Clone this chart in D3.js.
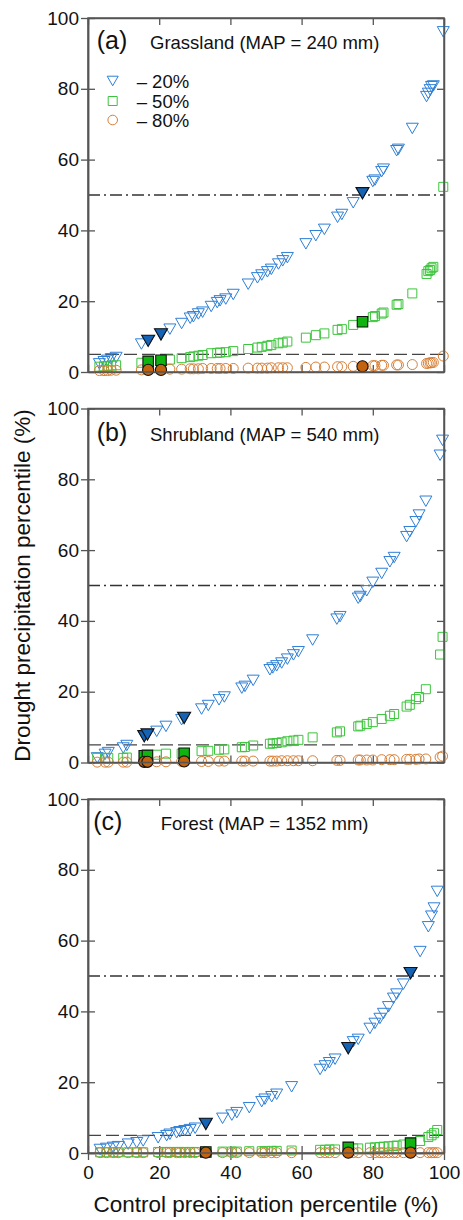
<!DOCTYPE html>
<html>
<head>
<meta charset="utf-8">
<script src="https://cdn.jsdelivr.net/npm/d3@7"></script>
<style>
body { margin: 0; background: #fff; }
svg { display: block; font-family: "Liberation Sans", Arial, sans-serif; }
</style>
</head>
<body>
<div id="plot"></div>
<script>
// ---- data ----
var yTicks = [0, 20, 40, 60, 80, 100];
var xTicks = [0, 20, 40, 60, 80, 100];
var legendLabels = ["\u2013 20%", "\u2013 50%", "\u2013 80%"];
var panelTags = ["(a)", "(b)", "(c)"];
var panelTitles = ["Grassland (MAP = 240 mm)", "Shrubland (MAP = 540 mm)", "Forest (MAP = 1352 mm)"];

// grassland
var grassX = [3.2, 4.5, 5.5, 6.5, 7.9, 15.0, 16.9, 20.5, 23.0, 26.3, 28.7, 29.6, 31.0, 32.2, 34.6, 36.3, 37.1, 38.7, 40.8, 45.0, 47.6, 48.8, 50.4, 51.5, 53.5, 54.7, 56.0, 61.2, 64.0, 66.4, 70.1, 71.3, 74.5, 77.1, 80.0, 80.6, 82.5, 83.0, 86.7, 87.2, 91.1, 95.1, 95.6, 96.1, 96.5, 97.0, 99.8];
var grass20 = [2.3, 2.9, 3.3, 3.7, 4.1, 7.9, 8.8, 10.6, 12.1, 13.7, 15.2, 15.6, 16.4, 16.9, 18.5, 19.6, 20.1, 20.6, 21.9, 24.8, 26.6, 27.4, 28.3, 29.0, 30.5, 31.4, 32.3, 36.2, 38.5, 40.3, 43.7, 44.5, 47.8, 50.5, 53.8, 54.2, 56.6, 57.3, 62.5, 62.9, 68.8, 77.8, 78.7, 79.7, 80.6, 80.8, 96.1];
var grass50 = [1.5, 1.6, 1.7, 1.8, 1.9, 2.6, 3.0, 3.3, 3.5, 3.9, 4.2, 4.4, 4.6, 4.8, 5.3, 5.4, 5.5, 5.6, 5.9, 6.5, 6.9, 7.1, 7.4, 7.6, 8.1, 8.3, 8.6, 9.7, 10.4, 10.9, 11.9, 12.1, 13.3, 14.2, 15.5, 15.8, 16.5, 16.8, 19.0, 19.2, 22.2, 27.7, 28.5, 28.8, 29.3, 29.7, 52.3];
var grass80 = [0.4, 0.4, 0.4, 0.5, 0.5, 0.6, 0.7, 0.7, 0.8, 0.8, 0.9, 0.9, 0.9, 1.0, 1.0, 1.0, 1.0, 1.0, 1.0, 1.1, 1.1, 1.1, 1.1, 1.2, 1.2, 1.2, 1.2, 1.3, 1.4, 1.4, 1.5, 1.5, 1.6, 1.7, 1.8, 1.8, 1.9, 1.9, 2.0, 2.0, 2.1, 2.4, 2.5, 2.6, 2.6, 2.7, 4.5];
var grassHiX = [16.9, 20.5, 77.1];
var grassHi20 = [8.8, 10.6, 50.5];
var grassHi50 = [3.0, 3.3, 14.2];
var grassHi80 = [0.6, 0.6, 1.6];

// shrubland
var shrubX = [2.6, 4.8, 5.7, 9.9, 10.9, 15.8, 16.7, 19.3, 21.9, 26.3, 27.0, 31.9, 33.8, 36.8, 38.3, 43.2, 44.1, 46.4, 51.1, 51.9, 53.0, 54.4, 56.0, 57.7, 59.1, 63.1, 69.9, 70.8, 75.9, 76.5, 78.3, 80.0, 82.5, 84.8, 86.0, 89.5, 90.4, 92.1, 93.0, 94.9, 98.9, 99.6];
var shrub20 = [1.3, 2.3, 2.8, 4.1, 4.8, 7.4, 7.9, 8.8, 10.2, 12.1, 12.6, 15.1, 16.1, 17.7, 18.5, 21.0, 21.5, 23.2, 26.2, 26.7, 27.3, 28.1, 29.2, 30.4, 31.3, 34.6, 40.5, 41.2, 46.4, 46.9, 48.5, 50.9, 53.4, 56.7, 57.9, 63.8, 65.2, 68.0, 69.9, 73.8, 86.8, 91.0];
var shrub50 = [1.3, 1.3, 1.3, 1.3, 1.4, 1.9, 2.0, 2.2, 2.5, 2.5, 2.6, 3.2, 3.3, 3.6, 3.7, 4.3, 4.4, 4.8, 5.3, 5.4, 5.5, 5.7, 6.0, 6.2, 6.4, 7.1, 8.5, 8.8, 10.2, 10.4, 10.9, 11.4, 12.3, 13.2, 13.7, 15.8, 16.3, 17.9, 18.5, 20.7, 30.5, 35.5];
var shrub80 = [0.1, 0.1, 0.1, 0.1, 0.1, 0.2, 0.2, 0.2, 0.2, 0.3, 0.3, 0.3, 0.3, 0.4, 0.4, 0.4, 0.4, 0.4, 0.4, 0.4, 0.4, 0.5, 0.5, 0.5, 0.5, 0.5, 0.6, 0.6, 0.7, 0.7, 0.7, 0.7, 0.8, 0.8, 0.8, 0.9, 0.9, 0.9, 1.0, 1.0, 1.5, 1.8];
var shrubHiX = [15.8, 16.7, 27.0];
var shrubHi20 = [7.4, 7.9, 12.6];
var shrubHi50 = [1.9, 2.0, 2.6];
var shrubHi80 = [0.2, 0.2, 0.3];

// forest
var forestX = [3.4, 5.2, 7.1, 8.5, 11.3, 13.7, 15.5, 19.7, 22.1, 23.0, 24.9, 25.8, 27.2, 28.7, 30.1, 33.1, 37.8, 40.4, 41.8, 45.3, 48.8, 49.7, 51.6, 53.0, 57.2, 65.2, 66.6, 67.8, 69.4, 73.1, 74.5, 75.9, 79.2, 80.6, 82.0, 83.0, 84.4, 85.8, 86.7, 88.6, 90.6, 93.3, 95.6, 96.5, 97.2, 98.1];
var forest20 = [1.0, 1.3, 1.6, 1.8, 2.5, 2.9, 3.4, 4.3, 4.9, 5.3, 5.7, 6.0, 6.3, 6.6, 7.0, 8.2, 9.8, 10.7, 11.4, 12.8, 14.5, 15.2, 15.9, 16.6, 18.7, 23.6, 24.6, 25.5, 26.5, 29.6, 31.4, 32.1, 35.2, 36.6, 38.0, 39.4, 41.3, 43.7, 44.9, 47.7, 50.8, 56.9, 63.9, 66.9, 69.2, 73.9];
var forest50 = [0.2, 0.2, 0.2, 0.2, 0.2, 0.2, 0.2, 0.3, 0.3, 0.3, 0.3, 0.3, 0.3, 0.3, 0.3, 0.3, 0.4, 0.4, 0.4, 0.5, 0.5, 0.5, 0.6, 0.6, 0.7, 0.9, 0.9, 1.0, 1.0, 1.2, 1.3, 1.3, 1.5, 1.6, 1.7, 1.8, 1.9, 2.0, 2.1, 2.4, 2.8, 3.4, 4.5, 5.0, 5.6, 6.5];
var forest80 = [0.1, 0.1, 0.1, 0.1, 0.1, 0.1, 0.1, 0.1, 0.1, 0.1, 0.1, 0.1, 0.1, 0.1, 0.1, 0.1, 0.1, 0.1, 0.1, 0.1, 0.1, 0.1, 0.1, 0.1, 0.1, 0.1, 0.1, 0.1, 0.1, 0.1, 0.1, 0.1, 0.1, 0.1, 0.1, 0.1, 0.1, 0.1, 0.1, 0.1, 0.1, 0.1, 0.1, 0.1, 0.1, 0.1];
var forestHiX = [33.1, 73.1, 90.6];
var forestHi20 = [8.2, 29.6, 50.8];
var forestHi50 = [0.3, 1.6, 2.8];
var forestHi80 = [0.1, 0.1, 0.1];

var refLines = [50, 5];

// ---- layout ----
var left = 88, top0 = 18, width = 356, height = 354, step = 390.5;
var axisColor = "#555";
var col20 = "#2e7fd6", col50 = "#3cc43c", col80 = "#d77f36";
var fill20 = "#1463b5", fill50 = "#0fb40f", fill80 = "#c2630f";

var panels = [
	{x: grassX, s: [grass20, grass50, grass80], hx: grassHiX, hs: [grassHi20, grassHi50, grassHi80], tagX: 8.7, titleX: 62, base: 31},
	{x: shrubX, s: [shrub20, shrub50, shrub80], hx: shrubHiX, hs: [shrubHi20, shrubHi50, shrubHi80], tagX: 8.7, titleX: 62, base: 32},
	{x: forestX, s: [forest20, forest50, forest80], hx: forestHiX, hs: [forestHi20, forestHi50, forestHi80], tagX: 5.3, titleX: 72.7, base: 30.5}
];

var svg = d3.select("#plot").append("svg")
	.attr("width", 463)
	.attr("height", 1220);

var x = d3.scaleLinear().domain([0, 100]).range([0, width]);
var y = d3.scaleLinear().domain([0, 100]).range([height, 0]);

function triPath(w) {
	var h = w * 0.87;
	return "M" + (-w / 2) + "," + (-h / 2) + "L" + (w / 2) + "," + (-h / 2) + "L0," + (h / 2) + "Z";
}
function sqPath(w) {
	return "M" + (-w / 2) + "," + (-w / 2) + "h" + w + "v" + w + "h" + (-w) + "Z";
}

function drawMarkers(g, xs, ys, kind, filled) {
	var pts = xs.map(function(v, i) { return [v, ys[i]]; });
	var sel = g.append("g").selectAll(kind == 2 ? "circle" : "path")
		.data(pts)
		.enter();
	var m;
	if (kind == 2) {
		m = sel.append("circle")
			.attr("cx", function(d) { return x(d[0]); })
			.attr("cy", function(d) { return y(d[1]); })
			.attr("r", filled ? 5.6 : 5);
	} else {
		m = sel.append("path")
			.attr("transform", function(d) { return "translate(" + x(d[0]) + "," + y(d[1]) + ")"; })
			.attr("d", kind == 0 ? triPath(filled ? 13 : 12) : sqPath(filled ? 10.5 : 9));
	}
	var lineCol = [col20, col50, col80][kind];
	var fillCol = [fill20, fill50, fill80][kind];
	m.style("fill", filled ? fillCol : "none")
		.style("stroke", filled ? "#111" : lineCol)
		.style("stroke-width", filled ? 1.1 : 1);
}

panels.forEach(function(p, pi) {
	var g = svg.append("g")
		.attr("transform", "translate(" + left + "," + (top0 + pi * step) + ")");

	// reference lines
	g.append("line")
		.attr("x1", 0).attr("x2", width)
		.attr("y1", y(refLines[0])).attr("y2", y(refLines[0]))
		.style("stroke", "#333").style("stroke-width", 1.3)
		.style("stroke-dasharray", "12,4,2,4");
	g.append("line")
		.attr("x1", 0).attr("x2", width)
		.attr("y1", y(refLines[1])).attr("y2", y(refLines[1]))
		.style("stroke", "#444").style("stroke-width", 1.3)
		.style("stroke-dasharray", "13,5");

	// axes
	var gl = g.append("g")
		.call(d3.axisLeft(y).tickValues(yTicks).tickSize(7).tickSizeOuter(0).tickPadding(2));
	gl.selectAll("text").style("font-size", "19px").style("fill", "#111");
	g.append("g")
		.call(d3.axisLeft(y).tickValues(yTicks).tickSize(-7).tickSizeOuter(0).tickFormat(""));
	g.append("g")
		.attr("transform", "translate(" + width + ",0)")
		.call(d3.axisRight(y).tickValues(yTicks).tickSize(-7).tickSizeOuter(0).tickFormat(""));
	g.append("g")
		.call(d3.axisTop(x).tickValues(xTicks).tickSize(-7).tickSizeOuter(0).tickFormat(""));
	g.append("g")
		.attr("transform", "translate(0," + height + ")")
		.call(d3.axisBottom(x).tickValues(xTicks).tickSize(-7).tickSizeOuter(0).tickFormat(""));
	if (pi == 2) {
		var gb = g.append("g")
			.attr("transform", "translate(0," + height + ")")
			.call(d3.axisBottom(x).tickValues(xTicks).tickSize(7).tickSizeOuter(0).tickPadding(6));
		gb.selectAll("text").style("font-size", "19px").style("fill", "#111");
	}
	g.selectAll(".domain").style("stroke", axisColor).style("stroke-width", 1.5);
	g.selectAll(".tick line").style("stroke", axisColor).style("stroke-width", 1.3);

	// data
	for (var k = 0; k < 3; k++) drawMarkers(g, p.x, p.s[k], k, false);
	for (var k = 0; k < 3; k++) drawMarkers(g, p.hx, p.hs[k], k, true);

	// frame
	g.append("rect")
		.attr("width", width).attr("height", height)
		.style("fill", "none").style("stroke", axisColor).style("stroke-width", 1.5);

	// labels
	g.append("text")
		.attr("x", p.tagX).attr("y", p.base)
		.style("font-size", "25px").style("fill", "#111")
		.text(panelTags[pi]);
	g.append("text")
		.attr("x", p.titleX).attr("y", p.base)
		.style("font-size", "18.5px").style("fill", "#111")
		.text(panelTitles[pi]);

	// legend only in first panel
	if (pi == 0) {
		var ly = [63, 83, 102];
		legendLabels.forEach(function(t, i) {
			var lg = g.append("g").attr("transform", "translate(24.7," + ly[i] + ")");
			if (i == 2) lg.append("circle").attr("r", 4.8);
			else lg.append("path").attr("d", i == 0 ? triPath(11) : sqPath(9));
			lg.selectAll("*").style("fill", "none").style("stroke", [col20, col50, col80][i]).style("stroke-width", 1);
			g.append("text")
				.attr("x", 48.7).attr("y", ly[i] + 6.5)
				.style("font-size", "18.5px").style("fill", "#111")
				.text(t);
		});
	}
});

// axis titles
svg.append("text")
	.attr("transform", "translate(30," + (top0 + step + height / 2) + ") rotate(-90)")
	.attr("text-anchor", "middle")
	.style("font-size", "22.5px").style("fill", "#111")
	.text("Drought precipitation percentile (%)");
svg.append("text")
	.attr("x", left + width / 2).attr("y", 1212)
	.attr("text-anchor", "middle")
	.style("font-size", "22.5px").style("fill", "#111")
	.text("Control precipitation percentile (%)");
</script>
</body>
</html>
